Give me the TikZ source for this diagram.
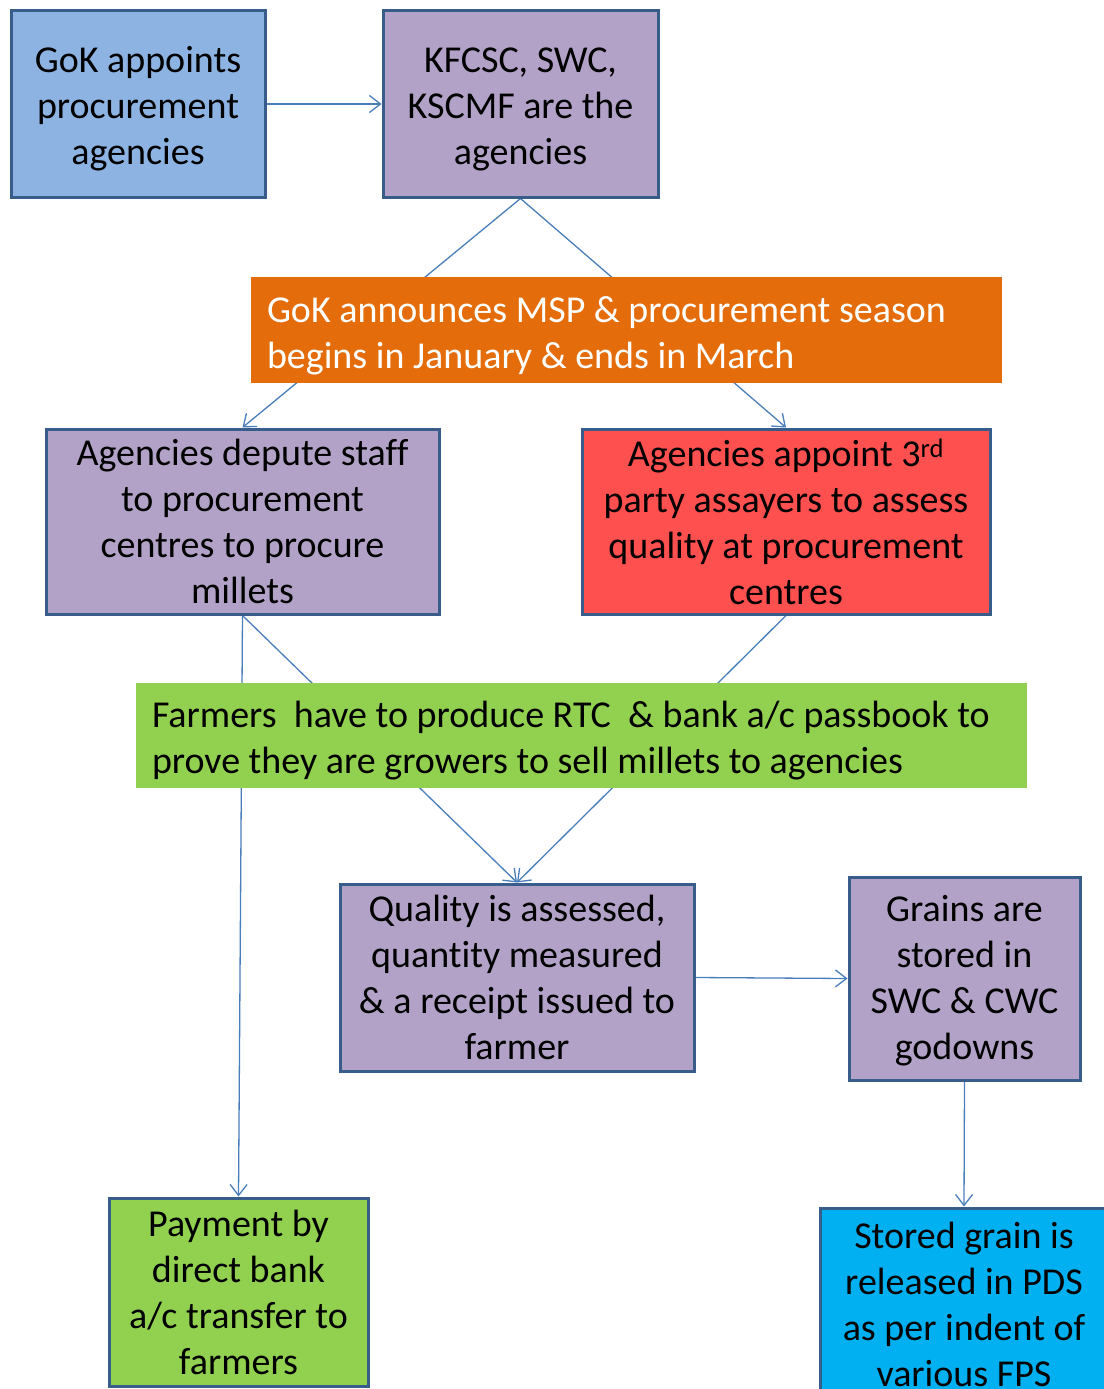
\documentclass[tikz,border=0pt]{standalone}
\usepackage{fontspec}
\setmainfont{Carlito}[Ligatures=NoCommon]
\usepackage{tikz}
\usetikzlibrary{arrows,arrows.meta,shapes,backgrounds}

\definecolor{boxline}{RGB}{56,93,138}
\definecolor{linkline}{RGB}{74,126,187}
\definecolor{govblue}{RGB}{141,179,226}
\definecolor{lilac}{RGB}{179,162,199}
\definecolor{seasonorange}{RGB}{228,108,10}
\definecolor{assayred}{RGB}{255,80,80}
\definecolor{farmgreen}{RGB}{146,208,80}
\definecolor{pdscyan}{RGB}{0,176,240}

\begin{document}
\begin{tikzpicture}[x=1pt,y=-1pt,>={Straight Barb[length=11pt,width=17pt]}]

  \tikzstyle{stage}=[rectangle,draw=boxline,line width=3pt,align=flush center,inner sep=0pt,font=\fontsize{38}{46}\selectfont]
  \tikzstyle{blue stage}=[stage,fill=govblue]
  \tikzstyle{lilac stage}=[stage,fill=lilac]
  \tikzstyle{red stage}=[stage,fill=assayred]
  \tikzstyle{green stage}=[stage,fill=farmgreen]
  \tikzstyle{cyan stage}=[stage,fill=pdscyan]
  \tikzstyle{banner}=[rectangle,inner xsep=16pt,inner ysep=0pt,align=flush left,font=\fontsize{38}{46}\selectfont]
  \tikzset{lift/.style={execute at begin node={\rule{0pt}{#1}}}}
  \tikzstyle{link}=[->,draw=linkline,line width=1.3pt]

  \useasboundingbox (0,0) rectangle (1103,1389);

  \path (138,104)     node[blue stage,text width=240pt,lift=35pt,minimum width=254pt,minimum height=186pt]  (appoint) {GoK appoints\\procurement\\agencies}
        (520.5,104)   node[lilac stage,text width=262pt,lift=35pt,minimum width=275pt,minimum height=186pt] (agency)  {KFCSC, SWC,\\KSCMF are the\\agencies}
        (626.5,330)   node[banner,fill=seasonorange,text=white,text width=719pt,lift=37pt,minimum height=106pt] (season)
                      {\mbox{GoK announces MSP \& procurement season}\\\mbox{begins in January \& ends in March}}
        (242.5,521.5) node[lilac stage,minimum width=393pt,minimum height=185pt] (depute)  {Agencies depute staff\\to procurement\\centres to procure\\millets}
        (786,521.5)   node[red stage,minimum width=408pt,minimum height=185pt]   (assay)   {Agencies appoint 3\textsuperscript{rd}\\party assayers to assess\\quality at procurement\\centres}
        (581.5,735.5) node[banner,fill=farmgreen,text width=859pt,lift=37pt,minimum height=105pt] (proof)
                      {\mbox{Farmers~ have to produce RTC~ \& bank a/c passbook to}\\\mbox{prove they are growers to sell millets to agencies}}
        (517,977.5)   node[lilac stage,minimum width=354pt,minimum height=187pt] (quality) {Quality is assessed,\\quantity measured\\\& a receipt issued to\\farmer}
        (964.5,978.5) node[lilac stage,text width=220pt,lift=31pt,minimum width=231pt,minimum height=203pt] (store) {Grains are\\stored in\\SWC \& CWC\\godowns}
        (238.5,1292)  node[green stage,minimum width=259pt,minimum height=188pt] (payment) {Payment by\\direct bank\\a/c transfer to\\farmers}
        (964,1304)    node[cyan stage,minimum width=288pt,minimum height=192pt]  (release) {Stored grain is\\released in PDS\\as per indent of\\various FPS};

  \begin{scope}[on background layer]
    \draw[link] (appoint.east) -- (agency.west);
    \draw[link] (agency.south) -- (depute.north);
    \draw[link] (agency.south) -- (assay.north);
    \draw[link] (depute.south) -- (quality.north);
    \draw[link] (assay.south) -- (quality.north);
    \draw[link] (depute.south) -- (payment.north);
    \draw[link] (quality.east) -- (store.west);
    \draw[link] (store.south) -- (release.north);
  \end{scope}

\end{tikzpicture}
\end{document}
